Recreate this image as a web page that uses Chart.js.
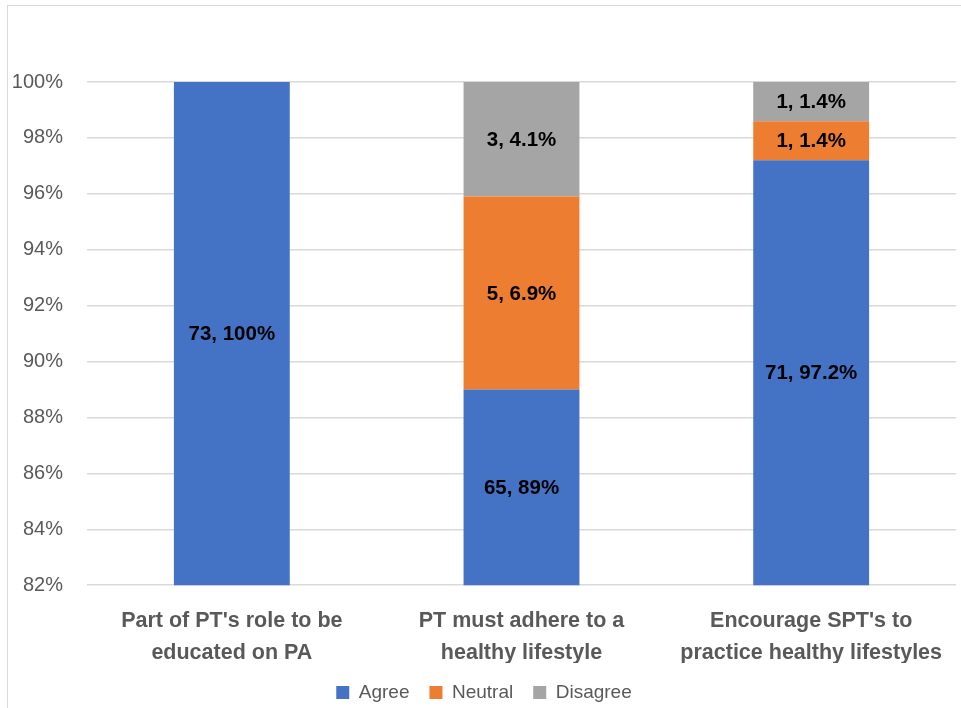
<!DOCTYPE html>
<html>
<head>
<meta charset="utf-8">
<script src="https://cdn.jsdelivr.net/npm/chart.js@4.4.1/dist/chart.umd.min.js"></script>
<style>
  html, body { margin: 0; padding: 0; background: #fff; }
  #wrap { position: relative; width: 961px; height: 708px; overflow: hidden; }
  #frame { position: absolute; left: 7px; top: 5px; width: 1000px; height: 800px; border: 1px solid #d9d9d9; box-sizing: border-box; pointer-events: none; }
  canvas { position: absolute; left: 0; top: 0; }
</style>
</head>
<body>
<div id="wrap">
  <canvas id="c" width="961" height="708"></canvas>
  <div id="frame"></div>
</div>
<script>
const categories = [
  ["Part of PT's role to be", "educated on PA"],
  ["PT must adhere to a", "healthy lifestyle"],
  ["Encourage SPT's to", "practice healthy lifestyles"]
];
const seriesNames = ["Agree", "Neutral", "Disagree"];
const agreePct = [100, 89, 97.2];
const neutralPct = [0, 6.9, 1.4];
const disagreePct = [0, 4.1, 1.4];
const agreeCount = [73, 65, 71];
const neutralCount = [0, 5, 1];
const disagreeCount = [0, 3, 1];
const yTicks = [82, 84, 86, 88, 90, 92, 94, 96, 98, 100];

const colors = ["#4472C4", "#ED7D31", "#A5A5A5"];
const FONT = "'Liberation Sans', Arial, sans-serif";

const pcts = [agreePct, neutralPct, disagreePct];
const counts = [agreeCount, neutralCount, disagreeCount];

const labelPlugin = {
  id: 'segLabels',
  afterDatasetsDraw(chart) {
    const ctx = chart.ctx;
    const area = chart.chartArea;
    ctx.save();
    ctx.font = "bold 20.5px " + FONT;
    ctx.fillStyle = "#000";
    ctx.textAlign = "center";
    ctx.textBaseline = "middle";
    chart.data.datasets.forEach((ds, di) => {
      const meta = chart.getDatasetMeta(di);
      meta.data.forEach((el, i) => {
        const v = pcts[di][i];
        if (!v) return;
        const top = Math.max(Math.min(el.y, el.base), area.top);
        const bot = Math.min(Math.max(el.y, el.base), area.bottom);
        if (bot <= top) return;
        const txt = counts[di][i] + ", " + v + "%";
        ctx.fillText(txt, el.x, (top + bot) / 2 + 1);
      });
    });
    ctx.restore();
  }
};

const legendFitPlugin = {
  id: 'legendFit',
  beforeUpdate(chart) {
    const lg = chart.legend;
    if (lg && !lg._patched) {
      const orig = lg.fit;
      lg.fit = function () { orig.call(this); this.height -= 4; };
      lg._patched = true;
    }
  }
};

new Chart(document.getElementById('c'), {
  type: 'bar',
  data: {
    labels: categories,
    datasets: seriesNames.map((n, i) => ({
      label: n,
      data: pcts[i],
      backgroundColor: colors[i],
      borderWidth: 0,
      categoryPercentage: 1.0,
      barPercentage: 0.4
    }))
  },
  options: {
    responsive: false,
    animation: false,
    devicePixelRatio: 1,
    layout: { padding: { top: 82, right: 5, left: 12, bottom: 0 } },
    plugins: {
      legend: {
        position: 'bottom',
        labels: {
          boxWidth: 13, boxHeight: 13, padding: 20,
          color: '#595959',
          font: { family: FONT, size: 19 }
        }
      },
      tooltip: { enabled: false }
    },
    scales: {
      x: {
        stacked: true,
        grid: { display: false },
        border: { display: false },
        afterFit(axis) { axis.height -= 18; },
        ticks: {
          color: '#595959',
          font: { family: FONT, size: 21.5, weight: 'bold', lineHeight: 1.53 },
          padding: 11,
          maxRotation: 0
        }
      },
      y: {
        stacked: true,
        min: 82, max: 100,
        afterBuildTicks(axis) { axis.ticks = yTicks.map(v => ({ value: v })); },
        afterFit(axis) { axis.width = 75; },
        grid: { color: '#d9d9d9', drawTicks: false, lineWidth: 1.5 },
        border: { display: false },
        ticks: {
          color: '#595959',
          font: { family: FONT, size: 20 },
          padding: 24,
          callback: v => v + '%'
        }
      }
    }
  },
  plugins: [labelPlugin, legendFitPlugin]
});
</script>
</body>
</html>
